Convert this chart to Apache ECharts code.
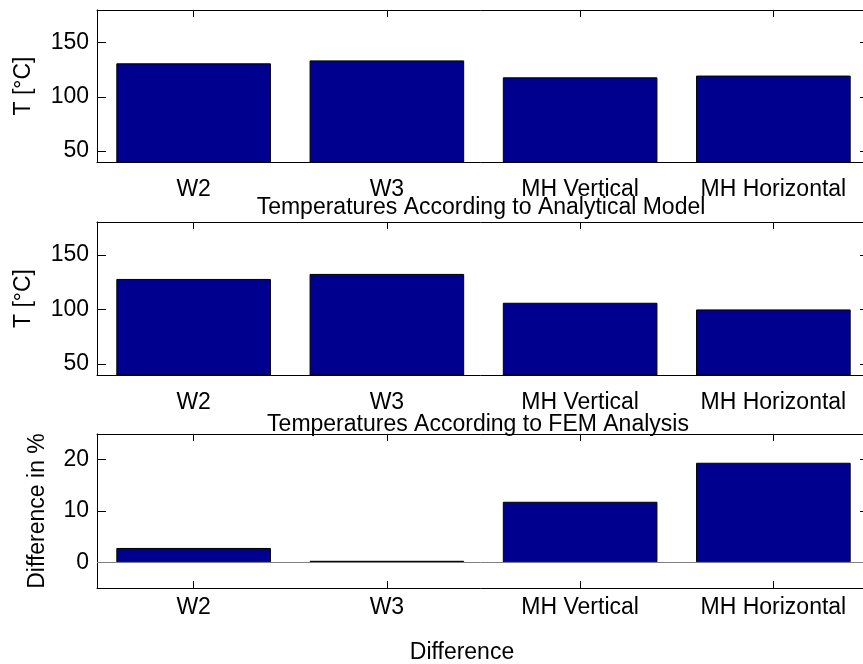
<!DOCTYPE html>
<html><head><meta charset="utf-8">
<script src="https://cdn.jsdelivr.net/npm/echarts@6/dist/echarts.min.js"></script>
<style>html,body{margin:0;padding:0;background:#fff;overflow:hidden}#c{width:863px;height:664px}</style>
</head><body><div id="c"></div>
<script>
const categories = ['W2', 'W3', 'MH Vertical', 'MH Horizontal'];
const analytical = [130.9, 133.6, 118.0, 119.6];
const fem = [127.9, 132.5, 106.1, 100.0];
const difference = [2.8, 0.3, 11.8, 19.4];
const tempTicks = [50, 100, 150];
const diffTicks = [0, 10, 20];
const categoryTicks = [0, 1, 2, 3];

const FONT = "'Liberation Sans', Arial, sans-serif";
const FS = 23;
const BAR = '#00008F';

const grids = [
  { left: 97, top: 10, width: 773, height: 152, outerBoundsMode: 'none', containLabel: false },
  { left: 97, top: 222, width: 773, height: 153, outerBoundsMode: 'none', containLabel: false },
  { left: 97, top: 434, width: 773, height: 154, outerBoundsMode: 'none', containLabel: false }
];
const yRanges = [[40, 180, tempTicks, 'T [°C]', 62], [40, 180, tempTicks, 'T [°C]', 62], [-5, 25, diffTicks, 'Difference in %', 48]];
const labelMargins = [16, 16, 8];
const seriesData = [analytical, fem, difference];

function tickAxis(i, pos, showLine) {
  return {
    type: 'value', gridIndex: i, position: pos, min: -0.5, max: 3.5,
    axisLine: { show: showLine, onZero: false, lineStyle: { color: '#000', width: 1 } },
    axisTick: { show: true, inside: true, length: 7, customValues: categoryTicks, lineStyle: { color: '#000' } },
    axisLabel: { show: false }, splitLine: { show: false }
  };
}

const xAxis = [], yAxis = [], series = [];
grids.forEach((g, i) => {
  xAxis.push({
    type: 'category', gridIndex: i, position: 'bottom', data: categories,
    axisLine: { show: true, onZero: false, lineStyle: { color: '#000', width: 1 } },
    axisTick: { show: false },
    axisLabel: { color: '#000', fontFamily: FONT, fontSize: FS, margin: labelMargins[i] },
    splitLine: { show: false }
  });
  xAxis.push(tickAxis(i, 'top', true));
  xAxis.push(tickAxis(i, 'bottom', false));
  const [mn, mx, ticks, name, gap] = yRanges[i];
  yAxis.push({
    type: 'value', gridIndex: i, position: 'left', min: mn, max: mx,
    name: name, nameLocation: 'middle', nameGap: gap,
    nameTextStyle: { color: '#000', fontFamily: FONT, fontSize: FS },
    axisLine: { show: true, onZero: false, lineStyle: { color: '#000', width: 1 } },
    axisTick: { show: true, inside: true, length: 9, customValues: ticks, lineStyle: { color: '#000' } },
    axisLabel: { color: '#000', fontFamily: FONT, fontSize: FS, margin: 8, customValues: ticks },
    splitLine: { show: false }
  });
  yAxis.push({
    type: 'value', gridIndex: i, position: 'right', min: mn, max: mx,
    axisLine: { show: false, onZero: false },
    axisTick: { show: true, inside: true, length: 10, customValues: ticks, lineStyle: { color: '#000' } },
    axisLabel: { show: false }, splitLine: { show: false }
  });
  const s = {
    type: 'bar', xAxisIndex: i * 3, yAxisIndex: i * 2, data: seriesData[i],
    barCategoryGap: '20%', clip: true, silent: true,
    itemStyle: { color: BAR, borderColor: '#000', borderWidth: 1 }
  };
  if (i === 2) {
    s.markLine = {
      silent: true, symbol: ['none', 'none'], label: { show: false },
      lineStyle: { color: '#808080', width: 1, type: 'solid' },
      data: [{ yAxis: 0 }]
    };
  }
  series.push(s);
});

const chart = echarts.init(document.getElementById('c'), null, { renderer: 'canvas' });
chart.setOption({
  animation: false,
  backgroundColor: '#fff',
  grid: grids,
  xAxis, yAxis, series,
  graphic: [
    { type: 'text', x: 481, y: 208, style: { text: 'Temperatures According to Analytical Model', font: FS + 'px ' + FONT, fill: '#000', textAlign: 'center', textVerticalAlign: 'middle' } },
    { type: 'text', x: 478, y: 425, style: { text: 'Temperatures According to FEM Analysis', font: FS + 'px ' + FONT, fill: '#000', textAlign: 'center', textVerticalAlign: 'middle' } },
    { type: 'text', x: 462, y: 653, style: { text: 'Difference', font: FS + 'px ' + FONT, fill: '#000', textAlign: 'center', textVerticalAlign: 'middle' } }
  ]
});
</script></body></html>
